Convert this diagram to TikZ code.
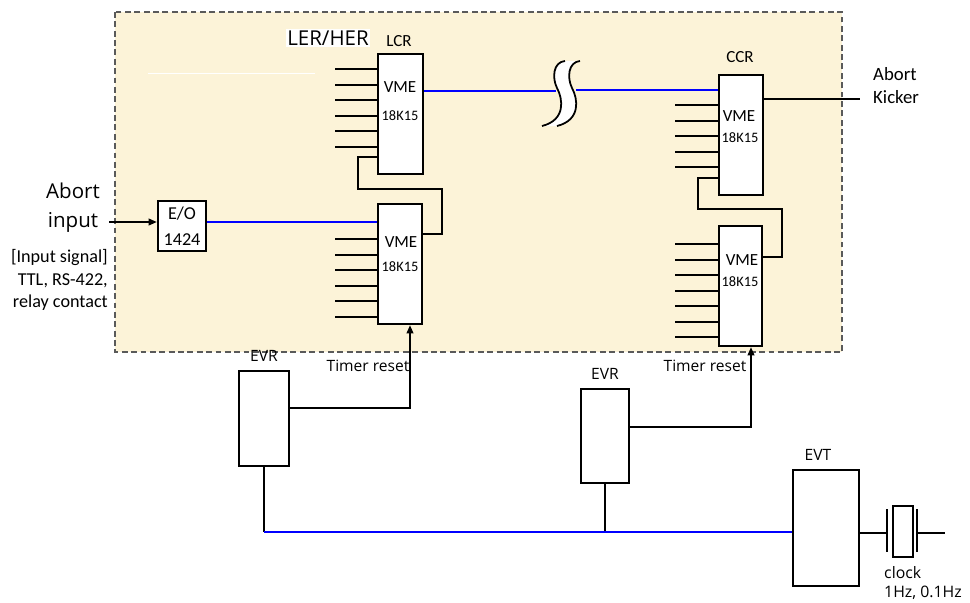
\documentclass[tikz,border=0pt]{standalone}
\usepackage{fontspec}
\setmainfont{Carlito}
\newfontfamily\grande{Open Sans}
\usetikzlibrary{arrows.meta,positioning,calc}
\definecolor{cream}{HTML}{FCF3D8}
\definecolor{bus}{HTML}{0000FF}
\definecolor{frame}{HTML}{5A5A5A}

\begin{document}
\begin{tikzpicture}[x=0.03cm,y=-0.03cm,
    unit/.style 2 args={draw,line width=1.8pt,fill=white,inner sep=0pt,
      minimum width=#1*0.03cm,minimum height=#2*0.03cm},
    wire/.style={line width=1.8pt},
    link/.style={line width=1.8pt,bus},
    tip/.style={-{Triangle[length=7pt,width=5.5pt]}},
    vme/.style={inner sep=0pt,font=\fontsize{14.5}{16}\selectfont},
    code/.style={inner sep=0pt,font=\fontsize{12.3}{14}\selectfont},
    tag/.style={inner sep=0pt,font=\grande\fontsize{13.3}{16}\selectfont}]
  \useasboundingbox (0,0) rectangle (970,602);
  % ring area
  \fill[cream] (115,12) rectangle (842,352);
  \draw[frame,line width=1pt,dash pattern=on 5pt off 3pt] (115,12) rectangle (842,352);
  \draw[white,line width=0.7pt] (148,73) -- (315,73);
  \node[fill=white,inner sep=1.5pt,font=\grande\fontsize{17.5}{20}\selectfont] (ring) at (328,38) {LER/HER};
  \node[vme] (lcr) at (399,41) {LCR};
  \node[vme] (ccr) at (740,57) {CCR};
  % VME crates
  \node[unit={45}{120}] (lcrA) at (400.5,114) {};
  \node[unit={44}{120}] (lcrB) at (400,264) {};
  \node[unit={44}{120}] (ccrA) at (741,135) {};
  \node[unit={43}{120}] (ccrB) at (740.5,286) {};
  \node[vme] (lcrAv) at (400,87) {VME};   \node[code] (lcrAc) at (400,116) {18K15};
  \node[vme] (lcrBv) at (401,242) {VME};  \node[code] (lcrBc) at (400,267) {18K15};
  \node[vme] (ccrAv) at (739,116) {VME};  \node[code] (ccrAc) at (740,138) {18K15};
  \node[vme] (ccrBv) at (742,260) {VME};  \node[code] (ccrBc) at (740,282) {18K15};
  \foreach \y in {69,85,100,116,131,147}{\draw[wire] (lcrA.west |- 0,\y) -- ++(-42,0);}
  \foreach \y in {239,255,270,286,301,317}{\draw[wire] (lcrB.west |- 0,\y) -- ++(-42,0);}
  \foreach \y in {105,121,136,152,167}{\draw[wire] (ccrA.west |- 0,\y) -- ++(-43,0);}
  \foreach \y in {244,260,275,291,306,322,337}{\draw[wire] (ccrB.west |- 0,\y) -- ++(-43,0);}
  % daisy chain between crates
  \draw[wire] (lcrA.west |- 0,157) -| (358,189) -| (442,234) -- (lcrB.east |- 0,234);
  \draw[wire] (ccrA.west |- 0,178) -| (698,209) -| (782,257) -- (ccrB.east |- 0,257);
  % abort input
  \node[unit={48}{50},font=\fontsize{15.5}{22}\selectfont,align=center] (eo) at (182,226) {E/O\\1424};
  \node[align=center,inner sep=0pt,font=\grande\fontsize{17.5}{24.8}\selectfont] (ain) at (73,207.5) {Abort\\input};
  \node[anchor=east,align=right,inner sep=0pt,font=\fontsize{15.5}{19.2}\selectfont] (sig) at (108,280)
    {[Input signal]\\TTL, RS-422,\\relay contact};
  \coordinate (ainend) at (109,222);
  \draw[wire,tip] (ainend) -- (eo.west |- ainend);
  \draw[link] (eo.east |- 0,222) -- (lcrB.west |- 0,222);
  % LCR -- CCR link with break
  \coordinate (gapL) at (556,91);
  \coordinate (gapR) at (576,90);
  \draw[link] (lcrA.east |- gapL) -- (gapL);
  \draw[link] (gapR) -- (ccrA.west |- gapR);
  \fill[white] (565,61) .. controls (553,62) and (552,78) .. (557,88) .. controls (563,99) and (566,120) .. (542,126)
    -- (557,126) .. controls (581,120) and (578,99) .. (572,88) .. controls (567,78) and (568,62) .. (580,61) -- cycle;
  \draw[line width=1.5pt] (565,61) .. controls (553,62) and (552,78) .. (557,88) .. controls (563,99) and (566,120) .. (542,126);
  \draw[line width=1.5pt] (580,61) .. controls (568,62) and (567,78) .. (572,88) .. controls (578,99) and (581,120) .. (557,126);
  % abort kicker
  \coordinate (kick) at (860,99);
  \draw[wire] (ccrA.east |- kick) -- (kick);
  \node[anchor=west,align=left,inner sep=0pt,font=\fontsize{16}{19.7}\selectfont] (kicker) at (873,85.5) {Abort\\Kicker};
  % timing system
  \node[unit={50}{95}] (evrL) at (264,418.5) {};
  \node[unit={48}{94}] (evrR) at (605,436) {};
  \node[unit={66}{116}] (evt) at (826,528) {};
  \node[tag] (evrLl) at (264,356) {EVR};
  \node[tag] (evrRl) at (605,374) {EVR};
  \node[tag] (evtl) at (818,455) {EVT};
  \node[tag] (rstL) at (368,366) {Timer reset};
  \node[tag] (rstR) at (705,366) {Timer reset};
  \draw[wire,tip] (evrL.east |- 0,408) -| (lcrB.south -| 410,0);
  \draw[wire,tip] (evrR.east |- 0,427) -| (ccrB.south -| 751,0);
  \draw[wire] (evrL.south) -- (evrL.south |- 0,532);
  \draw[wire] (evrR.south) -- (evrR.south |- 0,532);
  \draw[link] (evrL.south |- 0,532) -- (evt.west |- 0,532);
  % clock
  \node[unit={20}{51}] (xtal) at (903,531.5) {};
  \draw[wire] (evt.east |- 0,533) -- (887,533);
  \draw[wire] (887,509) -- (887,552);
  \draw[wire] (917,509) -- (917,552);
  \draw[wire] (917,533) -- (945,533);
  \node[anchor=west,align=left,inner sep=0pt,font=\grande\fontsize{13.5}{17}\selectfont] (clk) at (884,583) {clock\\1Hz, 0.1Hz};
\end{tikzpicture}
\end{document}
